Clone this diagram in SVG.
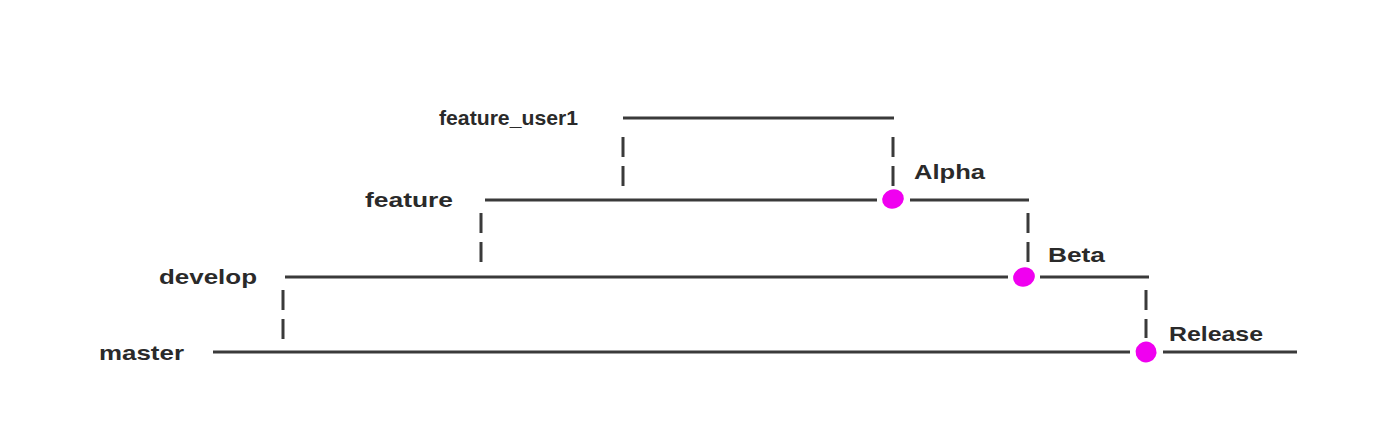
<svg xmlns="http://www.w3.org/2000/svg" width="1387" height="446" viewBox="0 0 1387 446">
<style>
.br{stroke:#3a3a3a;stroke-width:3;fill:none;stroke-linecap:butt}
.dash{stroke:#3a3a3a;stroke-width:3;fill:none;stroke-dasharray:20 9}
.lbl{font-family:"Liberation Sans",Arial,sans-serif;font-weight:bold;font-size:21px;fill:#2a2a2a}
.tag{fill:#f000f0}
</style>
<rect width="1387" height="446" fill="#ffffff"/>
<g id="connectors">
<line class="dash" x1="623" y1="137" x2="623" y2="188"/>
<line class="dash" x1="893" y1="137" x2="893" y2="188"/>
<line class="dash" x1="481" y1="213" x2="481" y2="265"/>
<line class="dash" x1="1028" y1="213" x2="1028" y2="265"/>
<line class="dash" x1="283" y1="290" x2="283" y2="341"/>
<line class="dash" x1="1146" y1="290" x2="1146" y2="338"/>
</g>
<g id="feature_user1">
<text class="lbl" x="439" y="125" textLength="139" lengthAdjust="spacingAndGlyphs">feature_user1</text>
<line class="br" x1="623" y1="118" x2="894" y2="118"/>
</g>
<g id="feature">
<text class="lbl" x="365" y="207" textLength="88" lengthAdjust="spacingAndGlyphs">feature</text>
<line class="br" x1="485" y1="200" x2="877" y2="200"/>
<line class="br" x1="910" y1="200" x2="1029" y2="200"/>
</g>
<g id="develop">
<text class="lbl" x="159" y="284" textLength="98" lengthAdjust="spacingAndGlyphs">develop</text>
<line class="br" x1="285" y1="277" x2="1008" y2="277"/>
<line class="br" x1="1040" y1="277" x2="1149" y2="277"/>
</g>
<g id="master">
<text class="lbl" x="99" y="360" textLength="85" lengthAdjust="spacingAndGlyphs">master</text>
<line class="br" x1="213" y1="352" x2="1130" y2="352"/>
<line class="br" x1="1163" y1="352" x2="1297" y2="352"/>
</g>
<g id="alpha">
<ellipse class="tag" cx="893" cy="199" rx="11" ry="9.5" transform="rotate(-20 893 199)"/>
<text class="lbl" x="914" y="179" textLength="71" lengthAdjust="spacingAndGlyphs">Alpha</text>
</g>
<g id="beta">
<ellipse class="tag" cx="1024" cy="277" rx="11" ry="9.5" transform="rotate(-20 1024 277)"/>
<text class="lbl" x="1048" y="262" textLength="57" lengthAdjust="spacingAndGlyphs">Beta</text>
</g>
<g id="release">
<ellipse class="tag" cx="1146" cy="352" rx="10.5" ry="10.5" transform="rotate(-20 1146 352)"/>
<text class="lbl" x="1169" y="341" textLength="94" lengthAdjust="spacingAndGlyphs">Release</text>
</g>
</svg>
